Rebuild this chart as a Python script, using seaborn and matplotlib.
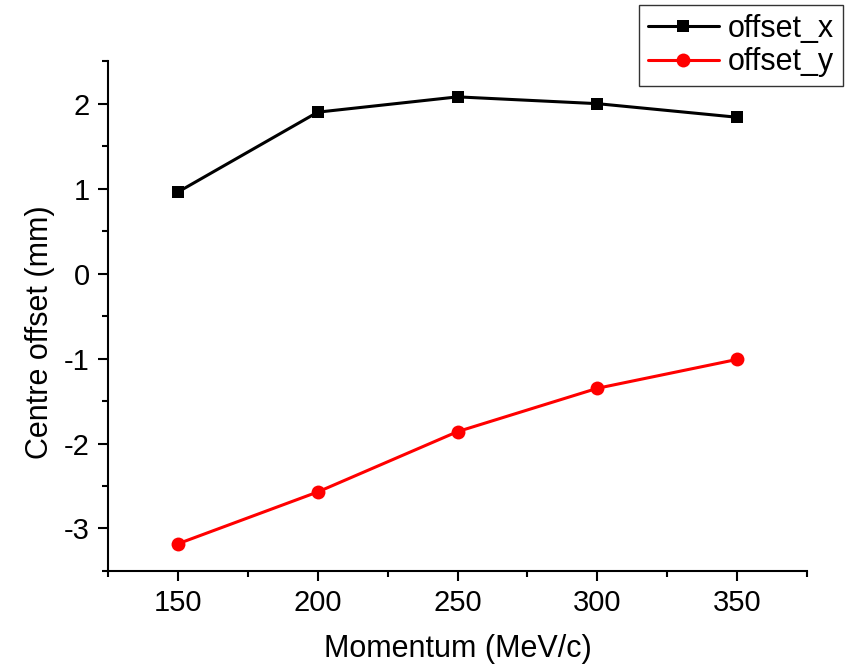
import matplotlib
matplotlib.use("Agg")
import matplotlib.pyplot as plt
import seaborn as sns
import pandas as pd
from matplotlib.lines import Line2D

momentum = [150, 200, 250, 300, 350]
offset_x = [0.96, 1.90, 2.08, 2.00, 1.84]
offset_y = [-3.18, -2.57, -1.86, -1.35, -1.01]
x_ticks = [150, 200, 250, 300, 350]
y_ticks = [-3, -2, -1, 0, 1, 2]

sns.set_theme(style="ticks")
plt.rcParams['font.family'] = ['Liberation Sans', 'DejaVu Sans']
plt.rcParams['axes.unicode_minus'] = False
plt.rcParams['axes.labelcolor'] = 'black'
plt.rcParams['text.color'] = 'black'

df = pd.DataFrame({
    "Momentum": momentum * 2,
    "offset": offset_x + offset_y,
    "series": ["offset_x"] * 5 + ["offset_y"] * 5,
})

fig = plt.figure(figsize=(8.54, 6.65), dpi=100)
ax = fig.add_axes([0.1265, 0.1414, 0.8185, 0.7666])

sns.lineplot(data=df, x="Momentum", y="offset", hue="series", style="series",
             palette={"offset_x": "black", "offset_y": "#ff0000"},
             markers={"offset_x": "s", "offset_y": "o"}, dashes=False,
             linewidth=2.2, ax=ax, legend=False)
for line, ms in zip(ax.lines, [8.5, 10]):
    line.set_markersize(ms)
    line.set_markeredgewidth(0)

ax.set_xlim(125, 375)
ax.set_ylim(-3.5, 2.5)
ax.set_xticks(x_ticks)
ax.set_yticks(y_ticks)
ax.set_xticks([125, 175, 225, 275, 325, 375], minor=True)
ax.set_yticks([-3.5, -2.5, -1.5, -0.5, 0.5, 1.5, 2.5], minor=True)
ax.tick_params(axis="both", which="major", direction="out", length=7, width=1.5,
               labelsize=21, colors="black", pad=6)
ax.tick_params(axis="both", which="minor", direction="out", length=4, width=1.5, colors="black")
for s in ["top", "right"]:
    ax.spines[s].set_visible(False)
for s in ["left", "bottom"]:
    ax.spines[s].set_linewidth(1.5)
    ax.spines[s].set_color("black")

ax.set_xlabel("Momentum (MeV/c)", fontsize=22, labelpad=12)
ax.set_ylabel("Centre offset (mm)", fontsize=22)
ax.yaxis.set_label_coords(-0.076, 0.469)

handles = [Line2D([], [], color="black", marker="s", markersize=8.5, markeredgewidth=0, linewidth=2.2),
           Line2D([], [], color="#ff0000", marker="o", markersize=10, markeredgewidth=0, linewidth=2.2)]
leg = fig.legend(handles, ["offset_x", "offset_y"], loc="upper right",
                 bbox_to_anchor=(843 / 854, 1 - 5 / 665), fontsize=22, frameon=True,
                 fancybox=False, edgecolor="black", handlelength=2.3, handletextpad=0.3,
                 borderpad=0.3, labelspacing=0.1, borderaxespad=0)
leg.get_frame().set_linewidth(1)

fig.savefig("out.png", dpi=100)
